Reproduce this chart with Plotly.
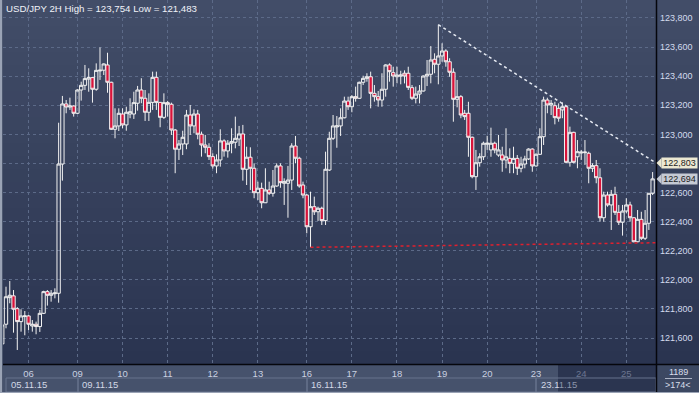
import plotly.graph_objects as go

# ---------------- data ----------------
opens = [121560,121695,121878,121890,121802,121713,121748,121752,121683,121695,
         121679,121770,121919,121894,121905,121908,122796,123209,123188,123195,
         123145,123305,123337,123380,123390,123310,123436,123441,123477,123358,
         123035,123058,123140,123065,123140,123140,123214,123305,123248,123152,
         123220,123392,123220,123117,123218,123207,123030,122898,122934,122934,
         123133,123058,123140,123001,122927,122911,122847,122783,122824,122955,
         122886,122939,122946,122968,123003,122760,122843,122767,122599,122629,
         122530,122618,122595,122645,122783,122664,122664,122686,122920,122836,
         122652,122583,122365,122503,122468,122492,122407,122755,122973,123051,
         123058,123114,123229,123190,123259,123248,123358,123385,123396,123282,
         123259,123236,123310,123477,123424,123396,123400,123420,123420,123321,
         123248,123277,123298,123401,123413,123516,123482,123539,123573,123499,
         123427,123241,123259,123145,123145,122980,122709,122805,122846,122932,
         122893,122939,122858,122858,122824,122835,122801,122835,122767,122796,
         122831,122899,122783,122863,122984,123236,123202,123197,123179,123168,
         123190,122808,123014,122846,122872,122874,122870,122767,122785,122702,
         122427,122583,122515,122588,122464,122396,122473,122515,122427,122262,
         122416,122286,122389,122595]
highs = [121705,121953,121992,121930,121813,121798,121786,121758,121724,121713,
         121793,121925,121930,121930,121942,123080,123264,123236,123252,123200,
         123310,123362,123477,123454,123395,123488,123598,123488,123561,123362,
         123179,123179,123179,123190,123248,123293,123333,123386,123305,123282,
         123431,123431,123222,123282,123230,123218,123037,122961,123025,123168,
         123202,123172,123168,123019,122996,122939,122870,122863,123035,122966,
         122961,123042,123122,123058,123065,122915,122911,122801,122675,122668,
         122767,122675,122755,122801,122801,122698,122783,122939,122989,122846,
         122675,122590,122606,122572,122503,122503,122881,123018,123133,123126,
         123179,123259,123259,123270,123328,123362,123403,123420,123431,123339,
         123298,123420,123482,123488,123465,123465,123437,123440,123465,123339,
         123328,123339,123405,123511,123607,123557,123754,123626,123585,123523,
         123454,123374,123270,123168,123224,122985,122893,122870,122950,122990,
         123046,122950,122996,122915,123042,122904,122915,122858,122846,122853,
         122904,122904,122870,123042,123259,123252,123236,123224,123213,123220,
         123195,123053,123018,122961,122893,122961,122881,122801,122824,122767,
         122606,122606,122618,122640,122515,122515,122561,122537,122430,122480,
         122468,122480,122597,122741]
lows = [121483,121667,121839,121637,121518,121644,121619,121655,121644,121626,
        121642,121765,121823,121850,121873,121843,122682,123145,123168,123122,
        123140,123232,123305,123293,123218,123300,123374,123408,123286,123030,
        122973,123023,123042,123025,123111,123106,123163,123214,123092,123092,
        123168,123168,123049,123106,123122,122996,122733,122824,122858,122898,
        122996,123008,122966,122847,122870,122824,122765,122733,122778,122847,
        122840,122870,122904,122920,122682,122652,122618,122561,122549,122492,
        122528,122583,122572,122640,122633,122515,122427,122618,122801,122633,
        122561,122320,122224,122446,122405,122377,122377,122748,122961,122908,
        122989,123110,123168,123152,123225,123245,123339,123362,123179,123225,
        123190,123190,123259,123362,123328,123351,123344,123350,123305,123236,
        123213,123213,123295,123332,123351,123420,123344,123499,123465,123396,
        123087,123186,123111,123099,122846,122698,122618,122778,122824,122893,
        122846,122870,122846,122743,122767,122733,122733,122721,122739,122767,
        122824,122743,122778,122858,122927,123145,123133,123069,123087,123111,
        122801,122778,122801,122767,122824,122790,122664,122741,122664,122400,
        122400,122503,122343,122446,122377,122304,122457,122400,122258,122258,
        122274,122274,122343,122583]
closes = [121690,121884,121894,121798,121713,121752,121752,121695,121695,121679,
          121770,121919,121894,121908,121910,122796,123209,123188,123195,123145,
          123305,123337,123383,123390,123310,123440,123441,123484,123358,123035,
          123058,123145,123065,123152,123156,123218,123305,123248,123152,123220,
          123392,123220,123117,123218,123207,123030,122898,122934,122980,123133,
          123058,123140,123001,122927,122911,122847,122783,122824,122955,122886,
          122939,122950,122973,123003,122760,122843,122767,122599,122630,122530,
          122618,122595,122645,122783,122668,122675,122686,122920,122836,122645,
          122583,122365,122503,122468,122492,122407,122760,122973,123058,123058,
          123114,123229,123190,123259,123248,123358,123385,123396,123282,123259,
          123236,123310,123477,123431,123401,123408,123408,123401,123323,123248,
          123277,123298,123401,123413,123511,123482,123539,123573,123499,123427,
          123241,123259,123133,123122,122980,122709,122805,122846,122939,122939,
          122939,122893,122893,122824,122846,122801,122835,122767,122796,122831,
          122899,122783,122863,122984,123236,123202,123213,123115,123111,123190,
          122808,123014,122808,122881,122878,122878,122767,122785,122702,122427,
          122583,122515,122588,122464,122396,122473,122515,122427,122262,122416,
          122286,122389,122595,122694]
bar_index = list(range(len(opens)))

day_ticks = [7, 20, 32, 44, 56, 68, 81, 93, 105, 117, 129, 142, 154, 166]
day_labels = ["06", "09", "10", "11", "12", "13", "16", "17", "18", "19", "20", "23", "24", "25"]
week_starts = [0, 20, 81, 142]
week_labels = ["05.11.15", "09.11.15", "16.11.15", "23.11.15"]
price_ticks = [121600, 121800, 122000, 122200, 122400, 122600, 122800, 123000, 123200, 123400, 123600, 123800]
# the 122,800 label is hidden behind the price tag in the reference
price_labels = ["121,600", "121,800", "122,000", "122,200", "122,400", "122,600", "",
                "123,000", "123,200", "123,400", "123,600", "123,800"]
trend_x = [116, 173.9]
trend_y = [123754, 122803]
support_x = [82, 173.9]
support_y = [122224, 122255]
tag_values = [122803, 122694]
tag_labels = ["122,803", "122,694"]
title_text = "USD/JPY 2H High = 123,754 Low = 121,483"
bars_total = "1189"
bars_visible = ">174<"

# ---------------- layout helpers (pixels -> paper) ----------------
W, H = 699, 393
ML, MR, MT, MB = 3, 43, 0, 29
PW, PH = W - ML - MR, H - MT - MB
Y0, Y1 = 121421.7, 123923.5
X0, X1 = 0.2, 173.9
PX_PER_PRICE = PH / (Y1 - Y0)


def px(xp):
    return (xp - ML) / PW


def py(yp):
    return (PH + MT - yp) / PH


FONT = "Liberation Sans, Arial, sans-serif"

fig = go.Figure()

fig.add_trace(go.Candlestick(
    x=bar_index, open=opens, high=highs, low=lows, close=closes,
    increasing=dict(line=dict(color="#f2f2f2", width=1), fillcolor="rgba(0,0,0,0)"),
    decreasing=dict(line=dict(color="#f2f2f2", width=1), fillcolor="#d8133a"),
    whiskerwidth=0, showlegend=False, hoverinfo="skip"))

fig.add_trace(go.Scatter(x=support_x, y=support_y, mode="lines",
                         line=dict(color="#e0202e", width=1.5, dash="dot"),
                         showlegend=False, hoverinfo="skip"))
fig.add_trace(go.Scatter(x=trend_x, y=trend_y, mode="lines",
                         line=dict(color="#e6eaf2", width=1.5, dash="dot"),
                         showlegend=False, hoverinfo="skip"))

shapes = []
# gradient background (plot + right panel)
top_c = (66, 77, 104)
bot_c = (42, 52, 80)
nb = 28
for k in range(nb):
    t = (k + 0.5) / nb
    c = tuple(int(round(top_c[j] + (bot_c[j] - top_c[j]) * t)) for j in range(3))
    shapes.append(dict(type="rect", xref="paper", yref="paper", layer="below",
                       x0=px(3), x1=px(699), y0=py(364 * k / nb), y1=py(364 * (k + 1) / nb + 0.5),
                       fillcolor="rgb(%d,%d,%d)" % c, line=dict(width=0)))
# bottom axis band
shapes.append(dict(type="rect", xref="paper", yref="paper", layer="below",
                   x0=px(3), x1=px(656), y0=py(364), y1=py(392),
                   fillcolor="#46526c", line=dict(width=0)))
# dark overlay (scroll region)
shapes.append(dict(type="rect", xref="paper", yref="paper", layer="below",
                   x0=px(558), x1=px(656), y0=py(365), y1=py(392),
                   fillcolor="#2b3550", line=dict(width=0)))
# bottom-right info box
shapes.append(dict(type="rect", xref="paper", yref="paper", layer="below",
                   x0=px(656), x1=px(699), y0=py(364), y1=py(392),
                   fillcolor="#3c4862", line=dict(width=0)))
shapes.append(dict(type="line", xref="paper", yref="paper", layer="below",
                   x0=px(665), x1=px(692), y0=py(378.5), y1=py(378.5),
                   line=dict(color="#aab2c4", width=1)))
# week boxes
wk_px = [6, 78, 307, 536, 656]
for k in range(len(week_labels)):
    shapes.append(dict(type="rect", xref="paper", yref="paper", layer="below",
                       x0=px(wk_px[k]), x1=px(wk_px[k + 1]), y0=py(378), y1=py(392),
                       fillcolor="rgba(0,0,0,0)", line=dict(color="#66728c", width=1)))
# left / bottom window border
shapes.append(dict(type="rect", xref="paper", yref="paper", layer="above",
                   x0=px(0), x1=px(2.2), y0=py(0), y1=py(393),
                   fillcolor="#9aa3b5", line=dict(width=0)))
shapes.append(dict(type="rect", xref="paper", yref="paper", layer="above",
                   x0=px(0), x1=px(699), y0=py(392), y1=py(393),
                   fillcolor="#9aa3b5", line=dict(width=0)))
# black frame lines
shapes.append(dict(type="line", xref="paper", yref="paper", layer="above",
                   x0=px(656.5), x1=px(656.5), y0=py(0), y1=py(392),
                   line=dict(color="#05060c", width=1.5)))
shapes.append(dict(type="line", xref="paper", yref="paper", layer="above",
                   x0=px(3), x1=px(699), y0=py(364.5), y1=py(364.5),
                   line=dict(color="#05060c", width=1.5)))

# price tags with arrows
tag_bg = ["#ebe8d2", "#c5cad4"]
annotations = []
dy = 5 / PX_PER_PRICE
for v, lab, bg in zip(tag_values, tag_labels, tag_bg):
    shapes.append(dict(type="path", xref="paper", yref="y", layer="above",
                       path="M %f,%f L %f,%f L %f,%f Z" % (px(656.5), v, px(661.5), v + dy, px(661.5), v - dy),
                       fillcolor=bg, line=dict(width=0)))
    annotations.append(dict(xref="paper", yref="y", x=px(661), y=v, xanchor="left", yanchor="middle",
                            text=lab, showarrow=False, bgcolor=bg, borderpad=0, width=35, height=10,
                            font=dict(family=FONT, size=9, color="#1c1c22")))

# title
annotations.append(dict(xref="paper", yref="paper", x=px(4), y=py(8), xanchor="left", yanchor="middle",
                        text=title_text, showarrow=False,
                        font=dict(family=FONT, size=9.7, color="#f0f2f8")))
# week labels
wk_text_px = [9, 80, 309, 539]
for k, lab in enumerate(week_labels):
    t = lab
    if k == 3:
        t = lab[:4] + "<span style='color:#8c96ac'>" + lab[4:] + "</span>"
    annotations.append(dict(xref="paper", yref="paper", x=px(wk_text_px[k]), y=py(384.5),
                            xanchor="left", yanchor="middle", text=t, showarrow=False,
                            font=dict(family=FONT, size=9.5, color="#d2d8e6")))
annotations.append(dict(xref="paper", yref="paper", x=px(678), y=py(372), xanchor="center", yanchor="middle",
                        text=bars_total, showarrow=False, font=dict(family=FONT, size=9, color="#d8deea")))
annotations.append(dict(xref="paper", yref="paper", x=px(678), y=py(385), xanchor="center", yanchor="middle",
                        text=bars_visible, showarrow=False, font=dict(family=FONT, size=9, color="#d8deea")))

tick_text = []
for d, lab in zip(day_ticks, day_labels):
    if d >= 154:
        tick_text.append("<span style='color:#6b7690'>" + lab + "</span>")
    else:
        tick_text.append(lab)

fig.update_layout(
    width=W, height=H, autosize=False,
    margin=dict(l=ML, r=MR, t=MT, b=MB, pad=0),
    paper_bgcolor="#3a4560", plot_bgcolor="#36415e",
    font=dict(family=FONT, size=9, color="#d0d7e6"),
    showlegend=False, boxgap=0.06, boxgroupgap=0.06,
    shapes=shapes, annotations=annotations,
    xaxis=dict(range=[X0, X1], rangeslider=dict(visible=False), showgrid=True,
               gridcolor="#5c6a88", griddash="3px,3px", gridwidth=1,
               tickmode="array", tickvals=day_ticks, ticktext=tick_text,
               tickfont=dict(family=FONT, size=9.5, color="#c9d0e0"), ticks="",
               showline=False, zeroline=False, fixedrange=True, ticklabelstandoff=2),
    yaxis=dict(range=[Y0, Y1], side="right", showgrid=True,
               gridcolor="#5c6a88", griddash="3px,3px", gridwidth=1,
               tickmode="array", tickvals=price_ticks, ticktext=price_labels,
               tickfont=dict(family=FONT, size=9, color="#d3dbee"), ticks="",
               showline=False, zeroline=False, fixedrange=True, ticklabelstandoff=3),
)

fig.write_html("out.html", config={"displayModeBar": False},
               post_script="document.body.style.margin='0';document.body.style.overflow='hidden';")
